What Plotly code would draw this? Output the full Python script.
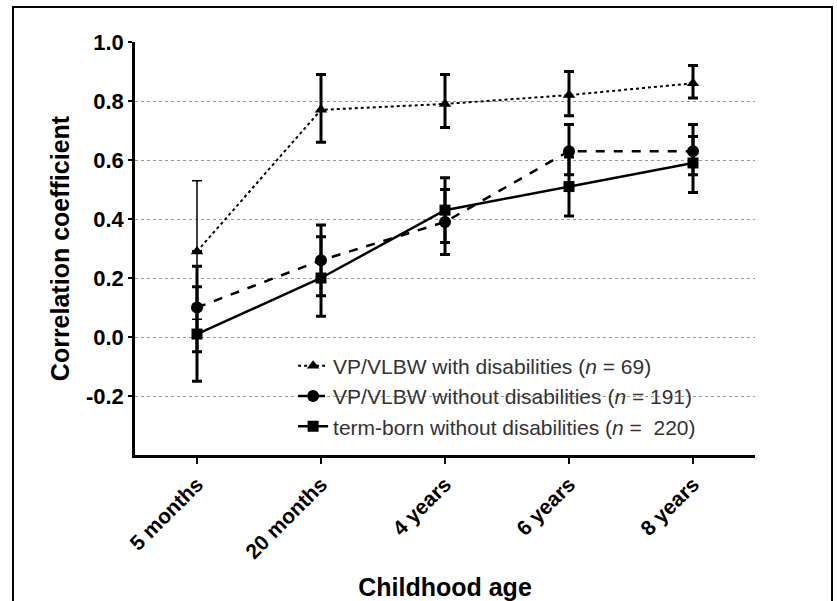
import plotly.graph_objects as go

# Assessment ages (categorical x axis)
ages = ["5 months", "20 months", "4 years", "6 years", "8 years"]

# VP/VLBW with disabilities: correlation and 95% CI bounds
dis_r = [0.29, 0.77, 0.79, 0.82, 0.86]
dis_lo = [0.06, 0.66, 0.71, 0.75, 0.81]
dis_hi = [0.53, 0.89, 0.89, 0.90, 0.92]

# VP/VLBW without disabilities
nodis_r = [0.10, 0.26, 0.39, 0.63, 0.63]
nodis_lo = [-0.05, 0.14, 0.28, 0.55, 0.55]
nodis_hi = [0.24, 0.38, 0.50, 0.72, 0.72]

# Term-born without disabilities
term_r = [0.01, 0.20, 0.43, 0.51, 0.59]
term_lo = [-0.15, 0.07, 0.32, 0.41, 0.49]
term_hi = [0.17, 0.34, 0.54, 0.61, 0.68]

y_ticks = [-0.2, 0.0, 0.2, 0.4, 0.6, 0.8, 1.0]

FONT = "Liberation Sans, Arial, sans-serif"


def err(r, lo, hi):
    return dict(
        type="data",
        symmetric=False,
        array=[h - v for v, h in zip(r, hi)],
        arrayminus=[v - l for v, l in zip(r, lo)],
        color="black",
        thickness=3,
        width=5,
    )


fig = go.Figure()

# first point of the disabilities group has a thinner CI bar
fig.add_trace(go.Scatter(
    x=ages[:1], y=dis_r[:1], mode="markers",
    marker=dict(size=1, color="rgba(0,0,0,0)"),
    error_y=dict(type="data", symmetric=False,
                 array=[dis_hi[0] - dis_r[0]],
                 arrayminus=[dis_r[0] - dis_lo[0]],
                 color="black", thickness=1.5, width=5),
    showlegend=False, hoverinfo="skip",
))

dis_err = err(dis_r, dis_lo, dis_hi)
dis_err["array"][0] = 0
dis_err["arrayminus"][0] = 0
fig.add_trace(go.Scatter(
    x=ages, y=dis_r, mode="lines+markers",
    name="VP/VLBW with disabilities (<i>n</i> = 69)",
    line=dict(color="black", width=2, dash="dot"),
    marker=dict(symbol="triangle-up", size=11, color="black"),
    error_y=dis_err,
))
fig.add_trace(go.Scatter(
    x=ages, y=nodis_r, mode="lines+markers",
    name="VP/VLBW without disabilities (<i>n</i> = 191)",
    line=dict(color="black", width=2.5, dash="dash"),
    marker=dict(symbol="circle", size=12, color="black"),
    error_y=err(nodis_r, nodis_lo, nodis_hi),
))
fig.add_trace(go.Scatter(
    x=ages, y=term_r, mode="lines+markers",
    name="term-born without disabilities (<i>n</i> =  220)",
    line=dict(color="black", width=2.5),
    marker=dict(symbol="square", size=11, color="black"),
    error_y=err(term_r, term_lo, term_hi),
))

fig.update_layout(
    width=837, height=601,
    margin=dict(l=135, r=82, t=42, b=146),
    paper_bgcolor="white", plot_bgcolor="white",
    font=dict(family=FONT, color="black"),
    legend=dict(
        x=0.255, y=0.265, xanchor="left", yanchor="top",
        bgcolor="rgba(0,0,0,0)",
        font=dict(family=FONT, size=21, color="#333333"),
        itemwidth=30, tracegroupgap=0,
    ),
    shapes=[dict(
        type="rect", xref="paper", yref="paper",
        x0=-0.1968, x1=1.1242, y0=-0.37, y1=1.0847,
        line=dict(color="black", width=2), fillcolor="rgba(0,0,0,0)",
        layer="below",
    )],
)

fig.update_xaxes(
    type="category", range=[-0.5, 4.5], automargin=False,
    showline=True, linecolor="black", linewidth=2.5,
    ticks="outside", ticklen=6, tickwidth=2, tickcolor="black",
    tickangle=-45,
    tickfont=dict(family=FONT, size=21, weight="bold"),
    showgrid=False, zeroline=False,
    title=dict(text="Childhood age", standoff=26,
               font=dict(family=FONT, size=25, weight="bold")),
)
fig.update_yaxes(
    range=[-0.4, 1.0], automargin=False,
    tickvals=y_ticks, ticktext=[f"{v:.1f}" for v in y_ticks],
    showline=True, linecolor="black", linewidth=2.5,
    ticks="outside", ticklen=4, tickwidth=1.5, tickcolor="black",
    tickfont=dict(family=FONT, size=22, weight="bold"),
    showgrid=True, gridcolor="#9a9a9a", griddash="dot", gridwidth=1,
    zeroline=False,
    title=dict(text="Correlation coefficient", standoff=10,
               font=dict(family=FONT, size=25, weight="bold")),
)

fig.write_html("out.html")
